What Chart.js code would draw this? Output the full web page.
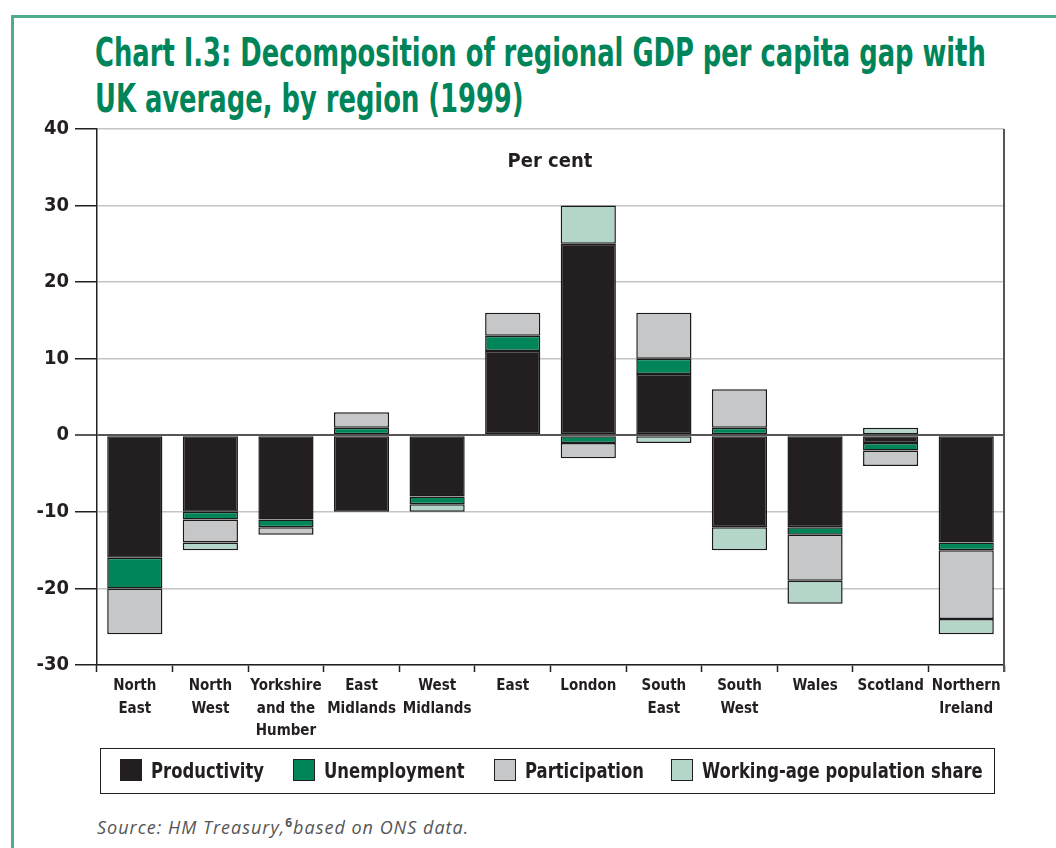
<!DOCTYPE html>
<html>
<head>
<meta charset="utf-8">
<script src="https://cdn.jsdelivr.net/npm/chart.js"></script>
<style>
  body { margin: 0; background: #fff; }
  #wrap { position: relative; width: 1056px; height: 848px; overflow: hidden; font-family: "DejaVu Sans Condensed", sans-serif; }
  .frame { position: absolute; left: 11px; top: 15px; width: 1100px; height: 900px; border-top: 3px solid #4fae8a; border-left: 3px solid #4fae8a; }
  .title { position: absolute; left: 95px; top: 30px; color: #00855a; font-weight: bold; font-size: 39px; line-height: 46px; white-space: nowrap; transform: scaleX(0.735); transform-origin: left top; }
  .unit { position: absolute; left: 450px; top: 148px; width: 200px; text-align: center; font-weight: bold; font-size: 20px; color: #231f20; }
  .legend { position: absolute; left: 100px; top: 748px; width: 893px; height: 44px; border: 1.5px solid #231f20; }
  .item { position: absolute; top: 10px; font-weight: bold; font-size: 21px; color: #231f20; white-space: nowrap; }
  .item .txt { display: inline-block; transform: scaleX(0.87); transform-origin: left center; }
  .sw { display: inline-block; width: 20px; height: 20px; border: 1.5px solid #231f20; vertical-align: -3px; margin-right: 9px; }
  .source { position: absolute; left: 97px; top: 814px; font-family: "Open Sans", sans-serif; font-style: italic; font-size: 18px; letter-spacing: 1px; color: #555; white-space: nowrap; }
  canvas { position: absolute; left: 0; top: 110px; }
</style>
</head>
<body>
<div id="wrap">
  <div class="frame"></div>
  <div class="title">Chart I.3: Decomposition of regional GDP per capita gap with<br>UK average, by region (1999)</div>
  <canvas id="gapChart" width="1056" height="640"></canvas>
  <div class="unit">Per cent</div>
  <div class="legend" id="legend"></div>
  <div class="source">Source: HM Treasury,<sup style="font-style:normal;font-weight:bold;font-size:12px">6</sup>based on ONS data.</div>
</div>
<script>
const regions = [
  ['North', 'East'], ['North', 'West'], ['Yorkshire', 'and the', 'Humber'], ['East', 'Midlands'],
  ['West', 'Midlands'], 'East', 'London', ['South', 'East'], ['South', 'West'], 'Wales', 'Scotland', ['Northern', 'Ireland']
];
const productivity = [-16, -10, -11, -10, -8, 11, 25, 8, -12, -12, -1, -14];
const unemployment = [-4, -1, -1, 1, -1, 2, -1, 2, 1, -1, -1, -1];
const participation = [-6, -3, -1, 2, 0, 3, -2, 6, 5, -6, -2, -9];
const workingAge = [0, -1, 0, 0, -1, 0, 5, -1, -3, -3, 1, -2];
const yTicks = [40, 30, 20, 10, 0, -10, -20, -30];

const seriesNames = ['Productivity', 'Unemployment', 'Participation', 'Working-age population share'];
const seriesColors = ['#231f20', '#00845a', '#c6c7c9', '#b3d6c8'];
const seriesData = [productivity, unemployment, participation, workingAge];

// legend in html
const legendLeft = [19, 192, 393, 570];
const legend = document.getElementById('legend');
seriesNames.forEach((name, i) => {
  const el = document.createElement('div');
  el.className = 'item';
  el.style.left = legendLeft[i] + 'px';
  el.innerHTML = '<span class="sw" style="background:' + seriesColors[i] + '"></span><span class="txt">' + name + '</span>';
  legend.appendChild(el);
});

const plotFrame = {
  id: 'plotFrame',
  afterDraw(chart) {
    const { ctx, chartArea } = chart;
    ctx.save();
    ctx.strokeStyle = '#555';
    ctx.lineWidth = 2;
    ctx.beginPath();
    ctx.moveTo(chartArea.right, chartArea.top);
    ctx.lineTo(chartArea.right, chartArea.bottom + 7);
    ctx.stroke();
    ctx.restore();
  }
};

new Chart(document.getElementById('gapChart'), {
  type: 'bar',
  data: {
    labels: regions,
    datasets: seriesData.map((d, i) => ({
      label: seriesNames[i],
      data: d,
      backgroundColor: seriesColors[i],
      borderColor: '#1a1a1a',
      borderWidth: 1.5,
      borderSkipped: false,
      barPercentage: 0.73,
      categoryPercentage: 1,
      stack: 'gap'
    }))
  },
  options: {
    responsive: false,
    animation: false,
    layout: { padding: { top: 19, right: 52, left: 0, bottom: 0 } },
    scales: {
      x: {
        stacked: true,
        afterFit: s => { s.height = 85; },
        grid: { offset: true, drawOnChartArea: false, tickLength: 7, tickColor: '#231f20', tickWidth: 1.5 },
        border: { color: '#231f20', width: 1.5 },
        ticks: { color: '#231f20', padding: 3, maxRotation: 0, autoSkip: false, font: { family: '"DejaVu Sans Condensed", sans-serif', size: 15, weight: 'bold', lineHeight: 1.5 } }
      },
      y: {
        stacked: true,
        min: -30,
        max: 40,
        afterFit: s => { s.width = 97; },
        afterBuildTicks: s => { s.ticks = yTicks.map(v => ({ value: v })); },
        grid: {
          color: c => c.tick && c.tick.value === 0 ? '#555' : '#c4c4c4',
          lineWidth: c => c.tick && c.tick.value === 0 ? 2 : 1.5,
          tickLength: 22,
          tickColor: '#231f20',
          tickWidth: 1.5
        },
        border: { color: '#231f20', width: 1.5 },
        ticks: { color: '#231f20', padding: 6, font: { family: '"DejaVu Sans Condensed", sans-serif', size: 20, weight: 'bold' } }
      }
    },
    plugins: {
      legend: { display: false },
      tooltip: { enabled: false }
    }
  },
  plugins: [plotFrame]
});
</script>
</body>
</html>
